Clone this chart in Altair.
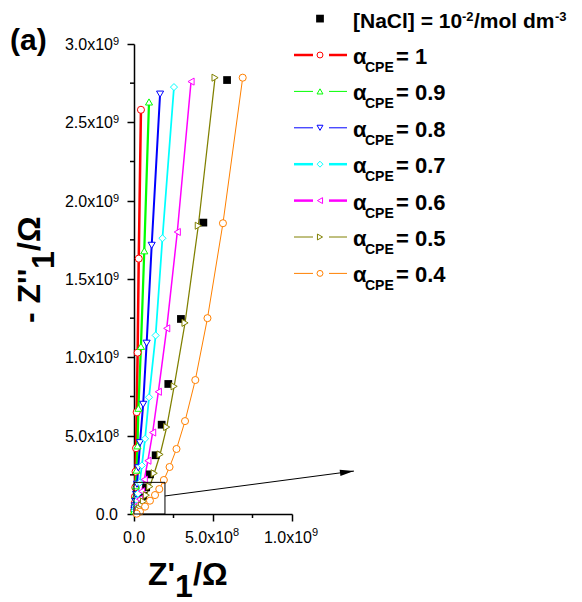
import altair as alt
import pandas as pd

FONT = "Liberation Sans"

# ---------------- data (units of 1e9 Ohm) ----------------
series = ["1", "0.9", "0.8", "0.7", "0.6", "0.5", "0.4"]
colors = ["#FF0000", "#00FF00", "#0000FF", "#00FFFF", "#FF00FF", "#808000", "#FF8000"]
shapes = ["circle", "triangle-up", "triangle-down", "diamond", "triangle-left", "triangle-right", "circle"]
widths = [2.5, 1, 1, 2.5, 2.5, 1, 1]

re_1 = [0.044, 0.030, 0.023, 0.017, 0.013, 0.010, 0.008, 0.006, 0.005, 0.004, 0.003, 0.002]
im_1 = [2.58, 1.63, 1.03, 0.65, 0.42, 0.27, 0.17, 0.11, 0.07, 0.045, 0.03, 0.02]
re_09 = [0.095, 0.065, 0.044, 0.028, 0.022, 0.016, 0.011, 0.008, 0.006, 0.004, 0.003, 0.002]
im_09 = [2.63, 1.68, 1.07, 0.675, 0.435, 0.28, 0.18, 0.115, 0.075, 0.048, 0.031, 0.02]
re_08 = [0.165, 0.112, 0.080, 0.058, 0.038, 0.027, 0.019, 0.013, 0.009, 0.006, 0.004, 0.003]
im_08 = [2.68, 1.715, 1.09, 0.70, 0.455, 0.295, 0.19, 0.125, 0.08, 0.052, 0.034, 0.022]
re_07 = [0.253, 0.180, 0.137, 0.095, 0.070, 0.050, 0.036, 0.025, 0.018, 0.013, 0.009, 0.006]
im_07 = [2.725, 1.76, 1.14, 0.745, 0.48, 0.31, 0.20, 0.13, 0.085, 0.055, 0.036, 0.023]
re_06 = [0.361, 0.274, 0.207, 0.154, 0.118, 0.088, 0.065, 0.048, 0.035, 0.026, 0.019, 0.014]
im_06 = [2.76, 1.80, 1.185, 0.78, 0.52, 0.34, 0.22, 0.145, 0.095, 0.062, 0.04, 0.026]
re_05 = [0.513, 0.407, 0.323, 0.254, 0.207, 0.165, 0.128, 0.100, 0.078, 0.060, 0.047, 0.036, 0.028]
im_05 = [2.785, 1.84, 1.22, 0.815, 0.555, 0.38, 0.26, 0.175, 0.12, 0.08, 0.055, 0.037, 0.025]
re_04 = [0.688, 0.563, 0.465, 0.388, 0.323, 0.269, 0.225, 0.189, 0.160, 0.133, 0.101, 0.070, 0.038, 0.017]
im_04 = [2.785, 1.856, 1.25, 0.855, 0.593, 0.415, 0.30, 0.217, 0.159, 0.121, 0.085, 0.047, 0.015, 0.002]

re_nacl = [0.589, 0.439, 0.297, 0.217, 0.175, 0.137, 0.101, 0.077, 0.058, 0.044, 0.034, 0.026]
im_nacl = [2.77, 1.86, 1.245, 0.83, 0.57, 0.375, 0.253, 0.17, 0.115, 0.078, 0.052, 0.035]

# axis tick values and labels
x_major = [0.0, 0.5, 1.0]
x_minor = [0.25, 0.75]
x_mant = ["0.0", "5.0x10", "1.0x10"]
x_sup = ["", "8", "9"]
y_major = [0.0, 0.5, 1.0, 1.5, 2.0, 2.5, 3.0]
y_minor = [0.25, 0.75, 1.25, 1.75, 2.25, 2.75]
y_mant = ["0.0", "5.0x10", "1.0x10", "1.5x10", "2.0x10", "2.5x10", "3.0x10"]
y_sup = ["", "8", "9", "9", "9", "9", "9"]

# inset box and arrow (data coordinates)
box_x = [0.0, 0.196]
box_y = [0.0, 0.202]
arrow_from = [0.196, 0.115]
arrow_to = [1.392, 0.274]

# ---------------- build tables ----------------
re_all = [re_1, re_09, re_08, re_07, re_06, re_05, re_04]
im_all = [im_1, im_09, im_08, im_07, im_06, im_05, im_04]
rows = []
for s, rr, ii in zip(series, re_all, im_all):
    for k, (a, b) in enumerate(zip(rr, ii)):
        rows.append({"series": s, "idx": k, "x": a, "y": b})
df = pd.DataFrame(rows)
df_nacl = pd.DataFrame({"x": re_nacl, "y": im_nacl})

W, H = 158, 470
xs = alt.Scale(domain=[0, 1], nice=False, zero=False)
ys = alt.Scale(domain=[0, 3], nice=False, zero=False)
xaxis = alt.Axis(values=x_major, labels=False, title=None, grid=False, tickSize=7,
                 tickWidth=1.5, domainWidth=1.5, domainColor="black", tickColor="black")
yaxis = alt.Axis(values=y_major, labels=False, title=None, grid=False, tickSize=7,
                 tickWidth=1.5, domainWidth=1.5, domainColor="black", tickColor="black")


def X(f):
    return alt.X(f, type="quantitative", scale=xs, axis=xaxis)


def Y(f):
    return alt.Y(f, type="quantitative", scale=ys, axis=yaxis)


cscale = alt.Scale(domain=series, range=colors)
wscale = alt.Scale(domain=series, range=widths)
sscale = alt.Scale(domain=series, range=shapes)

lines = alt.Chart(df).mark_line().encode(
    x=X("x"), y=Y("y"),
    color=alt.Color("series:N", scale=cscale, legend=None),
    strokeWidth=alt.StrokeWidth("series:N", scale=wscale, legend=None),
    order="idx:Q",
)
points = alt.Chart(df).mark_point(fill="white", fillOpacity=1, strokeWidth=1, size=50, opacity=1).encode(
    x=X("x"), y=Y("y"),
    stroke=alt.Stroke("series:N", scale=cscale, legend=None),
    shape=alt.Shape("series:N", scale=sscale, legend=None),
)
squares = alt.Chart(df_nacl).mark_point(shape="square", filled=True, color="black", size=60, opacity=1).encode(
    x=X("x"), y=Y("y"))

# minor ticks
ymin_df = pd.DataFrame({"v": y_minor})
xmin_df = pd.DataFrame({"v": x_minor})
ymin = alt.Chart(ymin_df).mark_rule(color="black", strokeWidth=1.5).encode(
    y=Y("v"), x=alt.value(-4), x2=alt.value(0))
xmin = alt.Chart(xmin_df).mark_rule(color="black", strokeWidth=1.5).encode(
    x=X("v"), y=alt.value(H), y2=alt.value(H + 4))

# tick labels
ylab_df = pd.DataFrame({"v": y_major, "m": y_mant, "s": y_sup})
xlab_df = pd.DataFrame({"v": x_major, "m": x_mant, "s": x_sup})
tk = dict(font=FONT, fontSize=16, color="black", baseline="alphabetic")
ylab_m = alt.Chart(ylab_df).transform_filter("datum.s != ''").mark_text(align="right", dy=6, **tk).encode(
    y=Y("v"), x=alt.value(-21), text="m:N")
ylab_0 = alt.Chart(ylab_df).transform_filter("datum.s == ''").mark_text(align="right", dy=6, **tk).encode(
    y=Y("v"), x=alt.value(-16), text="m:N")
ylab_s = alt.Chart(ylab_df).transform_filter("datum.s != ''").mark_text(
    align="left", dy=1, font=FONT, fontSize=11, color="black", baseline="alphabetic").encode(
    y=Y("v"), x=alt.value(-21), text="s:N")
xlab_m = alt.Chart(xlab_df).transform_filter("datum.s != ''").mark_text(align="right", dx=20, **tk).encode(
    x=X("v"), y=alt.value(H + 29), text="m:N")
xlab_0 = alt.Chart(xlab_df).transform_filter("datum.s == ''").mark_text(align="center", **tk).encode(
    x=X("v"), y=alt.value(H + 29), text="m:N")
xlab_s = alt.Chart(xlab_df).transform_filter("datum.s != ''").mark_text(
    align="left", dx=20, font=FONT, fontSize=11, color="black", baseline="alphabetic").encode(
    x=X("v"), y=alt.value(H + 22), text="s:N")

# inset box and arrow
box_df = pd.DataFrame({"x": [box_x[0]], "x2": [box_x[1]], "y": [box_y[0]], "y2": [box_y[1]]})
box = alt.Chart(box_df).mark_rect(fillOpacity=0, stroke="black", strokeWidth=1).encode(
    x=X("x"), x2="x2:Q", y=Y("y"), y2="y2:Q")
arr_df = pd.DataFrame({"x": [arrow_from[0]], "y": [arrow_from[1]], "x2": [arrow_to[0]], "y2": [arrow_to[1]]})
arrow = alt.Chart(arr_df).mark_rule(color="black", strokeWidth=1).encode(
    x=X("x"), y=Y("y"), x2="x2:Q", y2="y2:Q")
head_df = pd.DataFrame({"x": [arrow_to[0]], "y": [arrow_to[1]]})
head = alt.Chart(head_df).mark_point(
    shape="M0,0L-2,-0.45L-2,0.45Z", size=196, filled=True, color="black", opacity=1, angle=352.5
).encode(x=X("x"), y=Y("y"))


def text_layer(s, x, y, size, weight="bold", align="left", angle=None):
    kw = dict(align=align, baseline="alphabetic", fontSize=size, fontWeight=weight, font=FONT, color="black")
    if angle is not None:
        kw["angle"] = angle
    return alt.Chart(pd.DataFrame({"t": [s]})).mark_text(**kw).encode(
        x=alt.value(x), y=alt.value(y), text="t:N")


extra = []
# panel label
extra.append(text_layer("(a)", -124, 6, 30))
# axis titles
extra.append(text_layer("Z'", 14, 541, 32))
extra.append(text_layer("1", 41, 553, 32))
extra.append(text_layer("/\u03a9", 59, 541, 32))
extra.append(text_layer("- Z''", -94, 279, 32, angle=270))
extra.append(text_layer("1", -80, 225, 32, angle=270))
extra.append(text_layer("/\u03a9", -94, 207, 32, angle=270))

# legend
ROW0, DROW = 11, 36.4
for k, s in enumerate(series):
    ry = ROW0 + DROW * k
    extra.append(alt.Chart(pd.DataFrame({"a": [0]})).mark_rule(color=colors[k], strokeWidth=widths[k]).encode(
        x=alt.value(160), x2=alt.value(179), y=alt.value(ry)))
    extra.append(alt.Chart(pd.DataFrame({"a": [0]})).mark_rule(color=colors[k], strokeWidth=widths[k]).encode(
        x=alt.value(195), x2=alt.value(213), y=alt.value(ry)))
    extra.append(alt.Chart(pd.DataFrame({"a": [0]})).mark_point(
        shape=shapes[k], size=35, fill="white", fillOpacity=1, stroke=colors[k], strokeWidth=1, opacity=1).encode(
        x=alt.value(186), y=alt.value(ry)))
    extra.append(text_layer("\u03b1", 219, ry + 9, 22))
    extra.append(text_layer("CPE", 231, ry + 17, 14))
    extra.append(text_layer("= " + s, 262, ry + 9, 22))

ryn = ROW0 - DROW
extra.append(alt.Chart(pd.DataFrame({"a": [0]})).mark_point(
    shape="square", size=60, filled=True, color="black", opacity=1).encode(
    x=alt.value(186), y=alt.value(ryn)))
extra.append(text_layer("[NaCl] = 10", 219, ryn + 9, 21))
extra.append(text_layer("-2", 328, ryn + 2, 13))
extra.append(text_layer("/mol dm", 340, ryn + 9, 21))
extra.append(text_layer("-3", 421, ryn + 2, 13))

chart = alt.layer(
    lines, squares, points, ymin, xmin, ylab_m, ylab_0, ylab_s, xlab_m, xlab_0, xlab_s,
    box, arrow, head, *extra
).properties(
    width=W, height=H,
    padding={"left": 126, "top": 36, "right": 282, "bottom": 88},
    autosize=alt.AutoSizeParams(type="none"),
).configure_view(stroke=None)

chart.save("out.html", embed_options={"renderer": "svg", "actions": False})
